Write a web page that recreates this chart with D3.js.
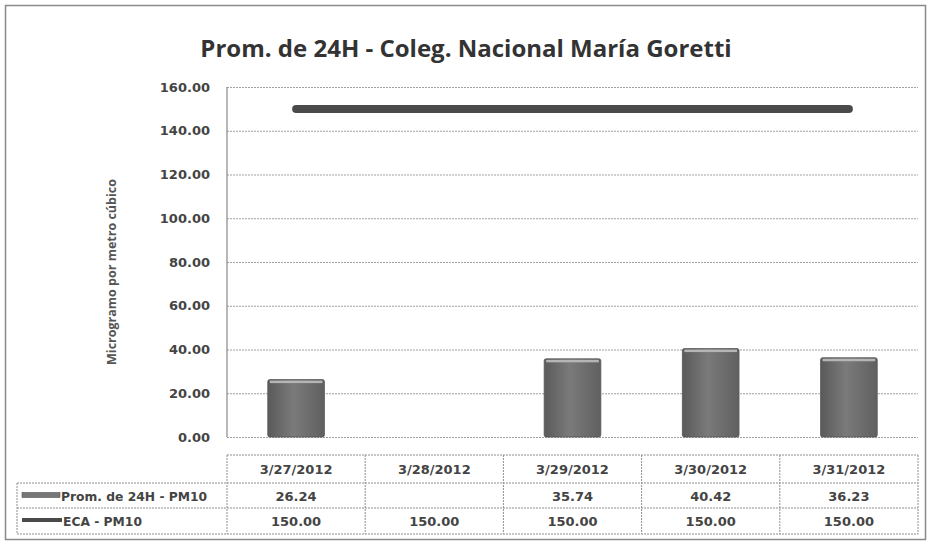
<!DOCTYPE html>
<html>
<head>
<meta charset="utf-8">
<script src="https://cdn.jsdelivr.net/npm/d3@7"></script>
<style>
  body { margin: 0; background: #fff; }
  svg { display: block; }
</style>
</head>
<body>
<div id="body"></div>
<script>
// chart data
let categories = ["3/27/2012", "3/28/2012", "3/29/2012", "3/30/2012", "3/31/2012"]
let promValues = [26.24, null, 35.74, 40.42, 36.23]
let ecaValues = [150, 150, 150, 150, 150]
let yTicks = [0, 20, 40, 60, 80, 100, 120, 140, 160]
let seriesNames = ["Prom. de 24H - PM10", "ECA - PM10"]

let W = 931, H = 545
let plot = { left: 227, right: 918, top: 87, bottom: 437 }
let fmt = d3.format(".2f")

let svg = d3.select("#body")
  .append("svg")
  .attr("width", W)
  .attr("height", H)

// gradient for the bars
let defs = svg.append("defs")
let grad = defs.append("linearGradient").attr("id", "barGrad")
  .attr("x1", 0).attr("x2", 1).attr("y1", 0).attr("y2", 0)
grad.append("stop").attr("offset", "0%").attr("stop-color", "#5a5a5a")
grad.append("stop").attr("offset", "45%").attr("stop-color", "#7a7a7a")
grad.append("stop").attr("offset", "100%").attr("stop-color", "#606060")

// outer frame
svg.append("rect")
  .attr("x", 5.5).attr("y", 5.5)
  .attr("width", W - 11).attr("height", H - 11)
  .attr("fill", "#fff")
  .attr("stroke", "#8a8a8a")
  .attr("stroke-width", 1.5)

// title
svg.append("text")
  .attr("x", 466).attr("y", 57)
  .attr("text-anchor", "middle")
  .style("font-family", "'Open Sans', sans-serif")
  .style("font-weight", "bold")
  .style("font-size", "24px")
  .attr("fill", "#333")
  .text("Prom. de 24H - Coleg. Nacional María Goretti")

let x = d3.scaleBand()
  .domain(categories)
  .range([plot.left, plot.right])

let y = d3.scaleLinear()
  .domain([0, 160])
  .range([plot.bottom, plot.top])

// y axis with gridlines
let yAxis = svg.append("g")
  .attr("transform", "translate(" + plot.left + ",0)")
  .call(d3.axisLeft(y)
    .tickValues(yTicks)
    .tickFormat(fmt)
    .tickSize(-(plot.right - plot.left))
    .tickPadding(17))
yAxis.select(".domain").remove()
yAxis.selectAll(".tick line")
  .attr("stroke", "#a0a0a0")
  .attr("stroke-width", 1.2)
  .attr("stroke-dasharray", "2,1")
yAxis.selectAll(".tick text")
  .style("font-family", "'DejaVu Sans', sans-serif")
  .style("font-weight", "bold")
  .style("font-size", "13px")
  .attr("fill", "#444")

// left axis line
svg.append("line")
  .attr("x1", plot.left).attr("x2", plot.left)
  .attr("y1", y(160)).attr("y2", y(0))
  .attr("stroke", "#888")
  .attr("stroke-width", 1.2)

// y axis title
svg.append("text")
  .attr("transform", "translate(116,272) rotate(-90)")
  .attr("text-anchor", "middle")
  .style("font-family", "'Open Sans', sans-serif")
  .style("font-weight", "bold")
  .style("font-size", "12.5px")
  .attr("fill", "#555")
  .text("Microgramo por metro cúbico")

// bars
let barW = x.bandwidth() * 0.41
let barData = categories.map(function (c, i) { return { cat: c, value: promValues[i] } })
  .filter(function (d) { return d.value != null })

let bars = svg.append("g")
bars.selectAll("rect.bar")
  .data(barData)
  .enter()
  .append("rect")
  .attr("class", "bar")
  .attr("x", function (d) { return x(d.cat) + (x.bandwidth() - barW) / 2 })
  .attr("y", function (d) { return y(d.value) })
  .attr("width", barW)
  .attr("height", function (d) { return y(0) - y(d.value) })
  .attr("rx", 2)
  .attr("fill", "url(#barGrad)")
  .attr("stroke", "#555")
  .attr("stroke-width", 0.8)
// top highlight of bars
bars.selectAll("rect.hl")
  .data(barData)
  .enter()
  .append("rect")
  .attr("class", "hl")
  .attr("x", function (d) { return x(d.cat) + (x.bandwidth() - barW) / 2 + 2 })
  .attr("y", function (d) { return y(d.value) + 1 })
  .attr("width", barW - 4)
  .attr("height", 2.5)
  .attr("fill", "#b5b5b5")

// ECA line
let line = d3.line()
  .x(function (d, i) { return x(categories[i]) + x.bandwidth() / 2 })
  .y(function (d) { return y(d) })
svg.append("path")
  .datum(ecaValues)
  .attr("d", line)
  .attr("fill", "none")
  .attr("stroke", "#4a4a4a")
  .attr("stroke-width", 8)
  .attr("stroke-linecap", "round")

// data table
let tbl = { top: 455, row1: 483, row2: 508, bottom: 534, labelLeft: 17 }
let tg = svg.append("g")
let gridStroke = "#8f8f8f"

function hline(yy, x1, x2) {
  tg.append("line").attr("x1", x1).attr("x2", x2).attr("y1", yy).attr("y2", yy)
    .attr("stroke", gridStroke).attr("stroke-width", 1).attr("stroke-dasharray", "2,1")
}
function vline(xx, y1, y2) {
  tg.append("line").attr("x1", xx).attr("x2", xx).attr("y1", y1).attr("y2", y2)
    .attr("stroke", gridStroke).attr("stroke-width", 1).attr("stroke-dasharray", "2,1")
}

hline(tbl.top, plot.left, plot.right)
hline(tbl.row1, tbl.labelLeft, plot.right)
hline(tbl.row2, tbl.labelLeft, plot.right)
hline(tbl.bottom, tbl.labelLeft, plot.right)
vline(tbl.labelLeft, tbl.row1, tbl.bottom)
categories.forEach(function (c) { vline(x(c), tbl.top, tbl.bottom) })
vline(plot.right, tbl.top, tbl.bottom)

let cellFont = function (sel) {
  sel.style("font-family", "'DejaVu Sans', sans-serif")
    .style("font-weight", "bold")
    .style("font-size", "13px")
    .attr("fill", "#444")
}

tg.selectAll("text.head")
  .data(categories)
  .enter()
  .append("text")
  .attr("class", "head")
  .attr("x", function (d) { return x(d) + x.bandwidth() / 2 })
  .attr("y", (tbl.top + tbl.row1) / 2 + 5)
  .attr("text-anchor", "middle")
  .call(cellFont)
  .text(function (d) { return d })

let rows = [
  { values: promValues, y: (tbl.row1 + tbl.row2) / 2 + 5 },
  { values: ecaValues, y: (tbl.row2 + tbl.bottom) / 2 + 5 }
]
rows.forEach(function (r) {
  tg.selectAll(null)
    .data(r.values)
    .enter()
    .append("text")
    .attr("x", function (d, i) { return x(categories[i]) + x.bandwidth() / 2 })
    .attr("y", r.y)
    .attr("text-anchor", "middle")
    .call(cellFont)
    .text(function (d) { return d == null ? "" : fmt(d) })
})

// row labels with legend keys
tg.append("rect")
  .attr("x", 22).attr("y", (tbl.row1 + tbl.row2) / 2 - 3)
  .attr("width", 38).attr("height", 5)
  .attr("fill", "#777").attr("stroke", "#555").attr("stroke-width", 0.6)
tg.append("line")
  .attr("x1", 22).attr("x2", 62)
  .attr("y1", (tbl.row2 + tbl.bottom) / 2 - 1).attr("y2", (tbl.row2 + tbl.bottom) / 2 - 1)
  .attr("stroke", "#4a4a4a").attr("stroke-width", 4)

tg.append("text")
  .attr("x", 61).attr("y", rows[0].y)
  .call(cellFont)
  .style("font-size", "12.3px")
  .text(seriesNames[0])
tg.append("text")
  .attr("x", 63).attr("y", rows[1].y)
  .call(cellFont)
  .style("font-size", "12.3px")
  .text(seriesNames[1])
</script>
</body>
</html>
